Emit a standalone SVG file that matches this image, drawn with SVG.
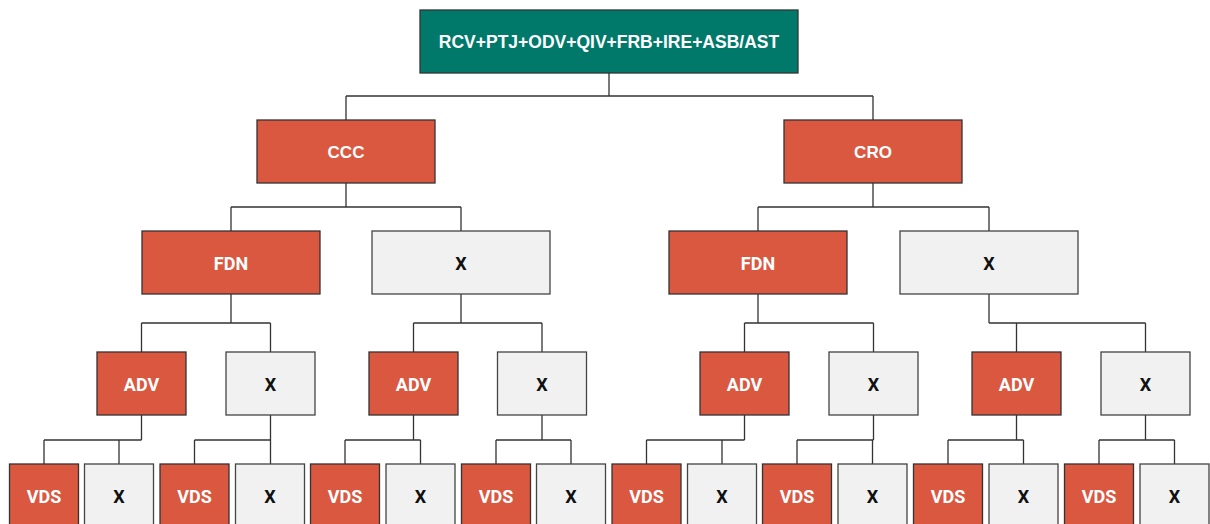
<svg xmlns="http://www.w3.org/2000/svg" width="1210" height="524" viewBox="0 0 1210 524">
  <style>
    .root { fill: #00796b; stroke: #333; stroke-width: 1.3; }
    .on { fill: #da5740; stroke: #333; stroke-width: 1.3; }
    .off { fill: #f1f1f1; stroke: #444; stroke-width: 1.3; }
    .lbl { font-family: "Liberation Sans", Arial, sans-serif; font-weight: bold; font-size: 17px; text-anchor: middle; dominant-baseline: central; }
    .big { font-size: 17.5px; }
    .sm { font-family: Roboto, "Liberation Sans", sans-serif; font-weight: bold; font-size: 18px; text-anchor: middle; dominant-baseline: central; }
    .w { fill: #ffffff; }
    .k { fill: #111111; }
    .conn path { fill: none; stroke: #333; stroke-width: 1.3; }
  </style>

  <!-- tree connectors -->
  <g class="conn">
    <path d="M609 73 V96 M346 96 H873 M346 96 V120 M873 96 V120"/>
    <path d="M346 183 V207 M231 207 H461 M231 207 V231 M461 207 V231"/>
    <path d="M873 183 V207 M758 207 H989 M758 207 V231 M989 207 V231"/>
    <path d="M231 294 V323 M141.5 323 H270.5 M141.5 323 V352 M270.5 323 V352"/>
    <path d="M461 294 V323 M413.5 323 H542 M413.5 323 V352 M542 323 V352"/>
    <path d="M758 294 V323 M744.5 323 H873.5 M744.5 323 V352 M873.5 323 V352"/>
    <path d="M989 294 V323 M989 323 H1145.5 M1016.5 323 V352 M1145.5 323 V352"/>
    <path d="M141.5 415 V440 M44 440 H141.5 M44 440 V464 M119 440 V464"/>
    <path d="M270.5 415 V440 M194.5 440 H270.5 M194.5 440 V464 M270.5 440 V464"/>
    <path d="M413.5 415 V440 M345 440 H420.5 M345 440 V464 M420.5 440 V464"/>
    <path d="M542 415 V440 M496 440 H571 M496 440 V464 M571 440 V464"/>
    <path d="M744.5 415 V440 M646.5 440 H744.5 M646.5 440 V464 M722 440 V464"/>
    <path d="M873.5 415 V440 M797 440 H873.5 M797 440 V464 M872.5 440 V464"/>
    <path d="M1016.5 415 V440 M948 440 H1023.5 M948 440 V464 M1023.5 440 V464"/>
    <path d="M1145.5 415 V440 M1099 440 H1174.5 M1099 440 V464 M1174.5 440 V464"/>
  </g>

  <!-- root -->
  <g id="root">
    <rect class="root" x="420" y="10" width="378" height="63"/>
    <text class="lbl big w" x="609" y="42">RCV+PTJ+ODV+QIV+FRB+IRE+ASB/AST</text>
  </g>

  <!-- level 2 -->
  <g id="ccc"><rect class="on" x="257" y="120" width="178" height="63"/><text class="lbl w" x="346" y="152">CCC</text></g>
  <g id="cro"><rect class="on" x="784" y="120" width="178" height="63"/><text class="lbl w" x="873" y="152">CRO</text></g>

  <!-- level 3 -->
  <g id="ccc-fdn"><rect class="on" x="142" y="231" width="178" height="63"/><text class="sm w" x="231" y="263">FDN</text></g>
  <g id="ccc-x"><rect class="off" x="372" y="231" width="178" height="63"/><text class="sm k" x="461" y="263">X</text></g>
  <g id="cro-fdn"><rect class="on" x="669" y="231" width="178" height="63"/><text class="sm w" x="758" y="263">FDN</text></g>
  <g id="cro-x"><rect class="off" x="900" y="231" width="178" height="63"/><text class="sm k" x="989" y="263">X</text></g>

  <!-- level 4 -->
  <g id="adv-1"><rect class="on" x="97" y="352" width="89" height="63"/><text class="sm w" x="141.5" y="384">ADV</text></g>
  <g id="x4-1"><rect class="off" x="226" y="352" width="89" height="63"/><text class="sm k" x="270.5" y="384">X</text></g>
  <g id="adv-2"><rect class="on" x="369" y="352" width="89" height="63"/><text class="sm w" x="413.5" y="384">ADV</text></g>
  <g id="x4-2"><rect class="off" x="497.5" y="352" width="89" height="63"/><text class="sm k" x="542" y="384">X</text></g>
  <g id="adv-3"><rect class="on" x="700" y="352" width="89" height="63"/><text class="sm w" x="744.5" y="384">ADV</text></g>
  <g id="x4-3"><rect class="off" x="829" y="352" width="89" height="63"/><text class="sm k" x="873.5" y="384">X</text></g>
  <g id="adv-4"><rect class="on" x="972" y="352" width="89" height="63"/><text class="sm w" x="1016.5" y="384">ADV</text></g>
  <g id="x4-4"><rect class="off" x="1101" y="352" width="89" height="63"/><text class="sm k" x="1145.5" y="384">X</text></g>

  <!-- level 5 -->
  <g id="vds-1"><rect class="on" x="9.5" y="464" width="69" height="63"/><text class="sm w" x="44" y="496">VDS</text></g>
  <g id="x5-1"><rect class="off" x="84.5" y="464" width="69" height="63"/><text class="sm k" x="119" y="496">X</text></g>
  <g id="vds-2"><rect class="on" x="160" y="464" width="69" height="63"/><text class="sm w" x="194.5" y="496">VDS</text></g>
  <g id="x5-2"><rect class="off" x="235.5" y="464" width="69" height="63"/><text class="sm k" x="270" y="496">X</text></g>
  <g id="vds-3"><rect class="on" x="310.5" y="464" width="69" height="63"/><text class="sm w" x="345" y="496">VDS</text></g>
  <g id="x5-3"><rect class="off" x="386" y="464" width="69" height="63"/><text class="sm k" x="420.5" y="496">X</text></g>
  <g id="vds-4"><rect class="on" x="461.5" y="464" width="69" height="63"/><text class="sm w" x="496" y="496">VDS</text></g>
  <g id="x5-4"><rect class="off" x="536.5" y="464" width="69" height="63"/><text class="sm k" x="571" y="496">X</text></g>
  <g id="vds-5"><rect class="on" x="612" y="464" width="69" height="63"/><text class="sm w" x="646.5" y="496">VDS</text></g>
  <g id="x5-5"><rect class="off" x="687.5" y="464" width="69" height="63"/><text class="sm k" x="722" y="496">X</text></g>
  <g id="vds-6"><rect class="on" x="762.5" y="464" width="69" height="63"/><text class="sm w" x="797" y="496">VDS</text></g>
  <g id="x5-6"><rect class="off" x="838" y="464" width="69" height="63"/><text class="sm k" x="872.5" y="496">X</text></g>
  <g id="vds-7"><rect class="on" x="913.5" y="464" width="69" height="63"/><text class="sm w" x="948" y="496">VDS</text></g>
  <g id="x5-7"><rect class="off" x="989" y="464" width="69" height="63"/><text class="sm k" x="1023.5" y="496">X</text></g>
  <g id="vds-8"><rect class="on" x="1064.5" y="464" width="69" height="63"/><text class="sm w" x="1099" y="496">VDS</text></g>
  <g id="x5-8"><rect class="off" x="1140" y="464" width="69" height="63"/><text class="sm k" x="1174.5" y="496">X</text></g>
</svg>
